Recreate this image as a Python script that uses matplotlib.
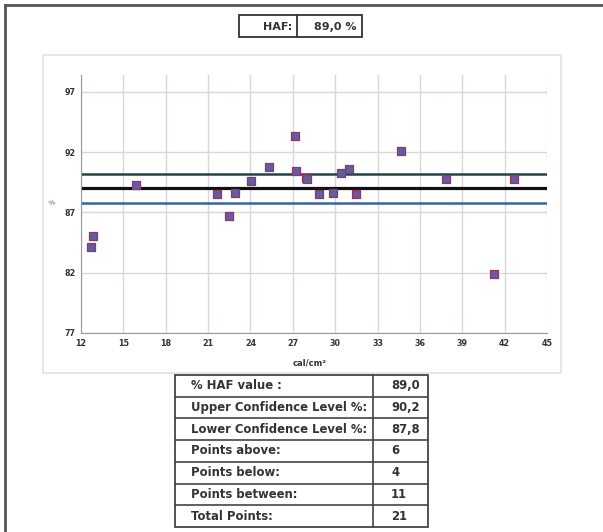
import matplotlib.pyplot as plt
from matplotlib.patches import Rectangle
from matplotlib.lines import Line2D

plt.rcParams['font.family'] = ['DejaVu Sans']

# measured points (cal/cm2, %)
x_vals = [12.85, 12.71, 15.92, 21.66, 22.91, 22.50, 24.02, 25.29, 27.16, 27.20,
          27.90, 28.00, 28.88, 29.87, 30.41, 30.98, 31.48, 34.64, 37.83, 41.23, 42.64]
y_vals = [85.03, 84.16, 89.28, 88.51, 88.64, 86.71, 89.64, 90.75, 93.32, 90.47,
          89.85, 89.75, 88.51, 88.62, 90.30, 90.64, 88.54, 92.08, 89.81, 81.92, 89.81]

haf = 89.0
ucl = 90.2
lcl = 87.8

x_ticks = [12, 15, 18, 21, 24, 27, 30, 33, 36, 39, 42, 45]
y_ticks = [77, 82, 87, 92, 97]

row_labels = ['% HAF value :', 'Upper Confidence Level %:', 'Lower Confidence Level %:',
              'Points above:', 'Points below:', 'Points between:', 'Total Points:']
row_values = ['89,0', '90,2', '87,8', '6', '4', '11', '21']

W, H = 603, 532
fig = plt.figure(figsize=(W / 100, H / 100), dpi=100)

# overlay axes in pixel coords for frames, boxes and table
bg = fig.add_axes([0, 0, 1, 1])
bg.set_xlim(0, W)
bg.set_ylim(H, 0)
bg.axis('off')

# outer frame (top and left visible)
bg.add_line(Line2D([5, W], [5, 5], color='#555555', lw=2))
bg.add_line(Line2D([5, 5], [5, H], color='#555555', lw=2))

# chart panel
bg.add_patch(Rectangle((43, 55), 518, 318, fill=False, ec='#e6e0e0', lw=1.2))

# HAF box
bg.add_patch(Rectangle((239, 15), 123, 22, fill=False, ec='#333333', lw=1.3))
bg.add_line(Line2D([297, 297], [15, 37], color='#333333', lw=1.3))
bg.text(292, 26.5, 'HAF:', ha='right', va='center', fontsize=8, fontweight='bold', color='#333333')
bg.text(357, 26.5, '89,0 %', ha='right', va='center', fontsize=8, fontweight='bold', color='#333333')

# stats table
tx0, tx1, tdiv = 175, 428, 373
ty0, rh = 375, 21.7
bg.add_patch(Rectangle((tx0, ty0), tx1 - tx0, rh * len(row_labels), fill=False, ec='#444444', lw=1.3))
bg.add_line(Line2D([tdiv, tdiv], [ty0, ty0 + rh * len(row_labels)], color='#444444', lw=1.2))
for i, (lab, val) in enumerate(zip(row_labels, row_values)):
    yc = ty0 + rh * (i + 0.5)
    if i > 0:
        bg.add_line(Line2D([tx0, tx1], [ty0 + rh * i] * 2, color='#444444', lw=1.2))
    bg.text(tx0 + 16, yc, lab, ha='left', va='center', fontsize=8.4, fontweight='bold', color='#333333')
    bg.text(tdiv + 18, yc, val, ha='left', va='center', fontsize=8.4, fontweight='bold', color='#333333')

# scatter chart
ax = fig.add_axes([81 / W, 1 - 333 / H, (547 - 81) / W, (333 - 75) / H])
ax.set_xlim(12, 45)
ax.set_ylim(77, 98.4)
ax.set_xticks(x_ticks)
ax.set_yticks(y_ticks)
ax.grid(True, color='#ddd6d3', lw=1)
ax.set_axisbelow(True)
for s in ['top', 'right']:
    ax.spines[s].set_visible(False)
for s in ['left', 'bottom']:
    ax.spines[s].set_color('#999999')
ax.tick_params(length=0, labelsize=5.8, colors='#333333', pad=4)
for t in ax.get_xticklabels() + ax.get_yticklabels():
    t.set_fontweight('bold')

ax.axhline(ucl, color='#1e4646', lw=1.8)
ax.axhline(haf, color='#111111', lw=2.3)
ax.axhline(lcl, color='#3a64a0', lw=1.8)

ax.scatter(x_vals, y_vals, marker='s', s=26, c='#6a5a9e', edgecolors='#8a3a6a', linewidths=0.9, zorder=5)

fig.text(310 / W, 1 - 363 / H, 'cal/cm²', ha='center', va='center', fontsize=6, fontweight='bold', color='#333333')
fig.text(52 / W, 1 - 203 / H, '%', ha='center', va='center', fontsize=5, color='#666666', rotation=20)

fig.savefig('out.png', dpi=100)
